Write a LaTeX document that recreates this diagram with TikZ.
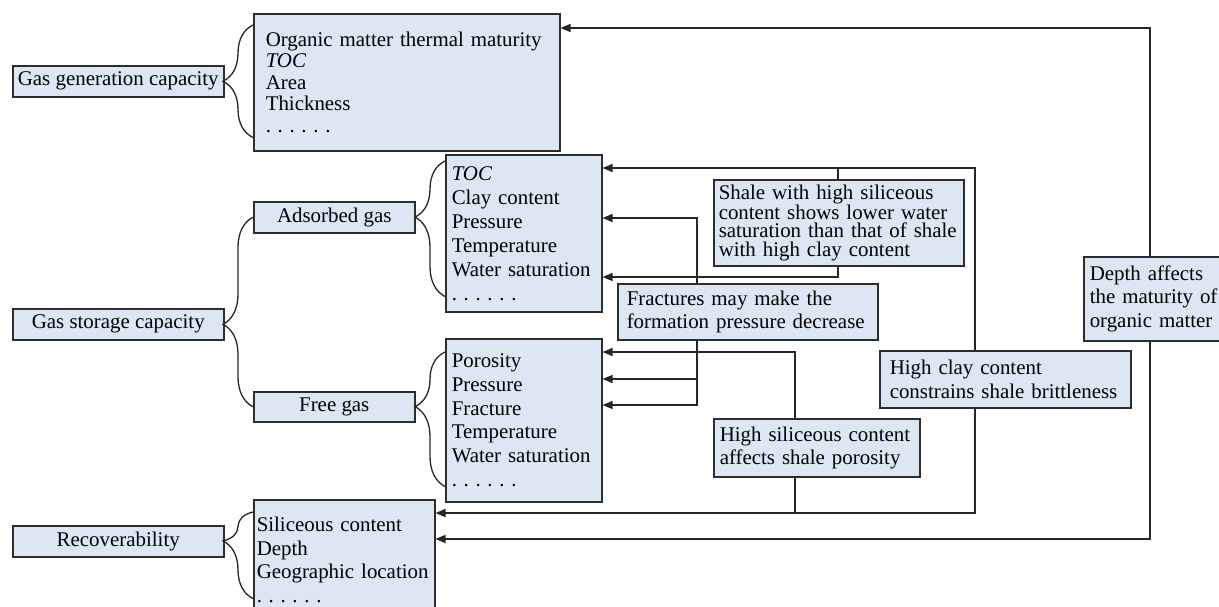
\documentclass[tikz,border=0pt]{standalone}
\usepackage{fontspec}
\setmainfont{Liberation Serif}
\usetikzlibrary{arrows.meta, decorations.pathreplacing}
\definecolor{boxfill}{RGB}{220,231,243}
\definecolor{boxline}{RGB}{45,45,45}
\tikzset{factor/.style={draw=boxline, fill=boxfill, line width=1.5pt, anchor=north west, inner sep=0pt, font=\fontsize{20.9}{23.5}\selectfont}}
\tikzset{listbox/.style={factor, align=left, text width=#1}}
\tikzset{link/.style={draw=black!85, line width=1.3pt}}
\tikzset{effect/.style={link, -{Triangle[length=10pt, width=8pt]}}}
\tikzset{curly/.style={link, decorate, decoration={brace, amplitude=30pt, aspect=#1}}}
\tikzset{curly/.default=0.5}
\newcommand{\sixdots}{.\hspace{0.32em}.\hspace{0.32em}.\hspace{0.32em}.\hspace{0.32em}.\hspace{0.32em}.}

\begin{document}
\begin{tikzpicture}[x=1pt, y=-1pt]
    \useasboundingbox (0,0) rectangle (1219,606);
    % left column
    \node[factor, minimum width=211pt, minimum height=31pt] (gen) at (12,65) {Gas generation capacity};
    \node[factor, minimum width=211pt, minimum height=31pt] (stor) at (12,308) {Gas storage capacity};
    \node[factor, minimum width=211pt, minimum height=31pt] (rec) at (12,525) {Recoverability};
    \node[factor, minimum width=161pt, minimum height=31pt] (ads) at (253,201) {Adsorbed gas};
    \node[factor, minimum width=161pt, minimum height=30pt] (free) at (253,391) {Free gas};
    % lists of factors
    \node[listbox=282pt, inner xsep=12pt, minimum height=137pt, font=\fontsize{20.9}{21.5}\selectfont] (orgL) at (253,13)
        {Organic matter thermal maturity\\ \textit{TOC}\\ Area\\ Thickness\\ \sixdots};
    \node[listbox=144pt, inner xsep=6pt, minimum height=157pt, font=\fontsize{20.9}{24}\selectfont] (adsL) at (445,154)
        {\textit{TOC}\\ Clay content\\ Pressure\\ Temperature\\ Water saturation\\ \sixdots};
    \node[listbox=144pt, inner xsep=6pt, minimum height=163pt, font=\fontsize{20.9}{23.7}\selectfont] (freeL) at (445,338)
        {Porosity\\ Pressure\\ Fracture\\ Temperature\\ Water saturation\\ \sixdots};
    \node[listbox=175pt, inner xsep=3pt, minimum height=120pt] (recL) at (253,499)
        {Siliceous content\\ Depth\\ Geographic location\\ \sixdots\\[6pt]};
    % relations
    \node[listbox=240pt, inner xsep=5pt, minimum height=86pt, font=\fontsize{20.9}{18.5}\selectfont] (shale) at (713,179)
        {Shale with high siliceous\\ content shows lower water\\ saturation than that of shale\\ with high clay content};
    \node[listbox=242pt, inner xsep=9pt, minimum height=56pt] (frac) at (617,283)
        {Fractures may make the\\ formation pressure decrease};
    \node[listbox=231pt, inner xsep=10pt, minimum height=57pt] (clay) at (879,350)
        {High clay content\\ constrains shale brittleness};
    \node[listbox=194pt, inner xsep=6pt, minimum height=58pt] (sil) at (713,418)
        {High siliceous content\\ affects shale porosity};
    \node[listbox=130pt, inner xsep=6pt, minimum height=84pt] (depth) at (1083,256)
        {Depth affects\\ the maturity of\\ organic matter};

    % braces
    \draw[curly=0.5] ([yshift=14pt]orgL.south west) -- ([yshift=-12pt]orgL.north west);
    \draw[curly=0.435] (free.west) -- (ads.west);
    \draw[curly=0.586] ([yshift=16pt]adsL.south west) -- ([yshift=-7pt]adsL.north west);
    \draw[curly=0.594] ([yshift=16pt]freeL.south west) -- ([yshift=-14pt]freeL.north west);
    \draw[curly=0.665] ([yshift=22pt]recL.south west) -- ([yshift=-13pt]recL.north west);

    % bends of the connectors
    \coordinate (kClay) at (975,168);
    \coordinate (kShale) at (838,168);
    \coordinate (kWater) at (838,277);
    \coordinate (kPres) at (697,218);
    \coordinate (kPres2) at (697,379);
    \coordinate (kFrac) at (697,405);
    \coordinate (kPoro) at (795,352);
    \coordinate (kSil) at (795,513);
    \coordinate (kDepth) at (1150,28);
    \coordinate (kDepth2) at (1150,539);

    \draw[effect] (clay.north -| kClay) |- (adsL.east |- kClay);
    \draw[link] (shale.north -| kShale) -- (kShale);
    \draw[effect] (shale.south -| kWater) |- (adsL.east |- kWater);
    \draw[effect] (frac.north -| kPres) |- (adsL.east |- kPres);
    \draw[effect] (frac.south -| kFrac) |- (freeL.east |- kFrac);
    \draw[effect] (kPres2) -- (freeL.east |- kPres2);
    \draw[effect] (sil.north -| kPoro) |- (freeL.east |- kPoro);
    \draw[link] (sil.south -| kSil) -- (kSil);
    \draw[effect] (clay.south -| kClay) |- (recL.east |- kSil);
    \draw[effect] (depth.north -| kDepth) |- (orgL.east |- kDepth);
    \draw[effect] (depth.south -| kDepth) |- (recL.east |- kDepth2);
\end{tikzpicture}
\end{document}
